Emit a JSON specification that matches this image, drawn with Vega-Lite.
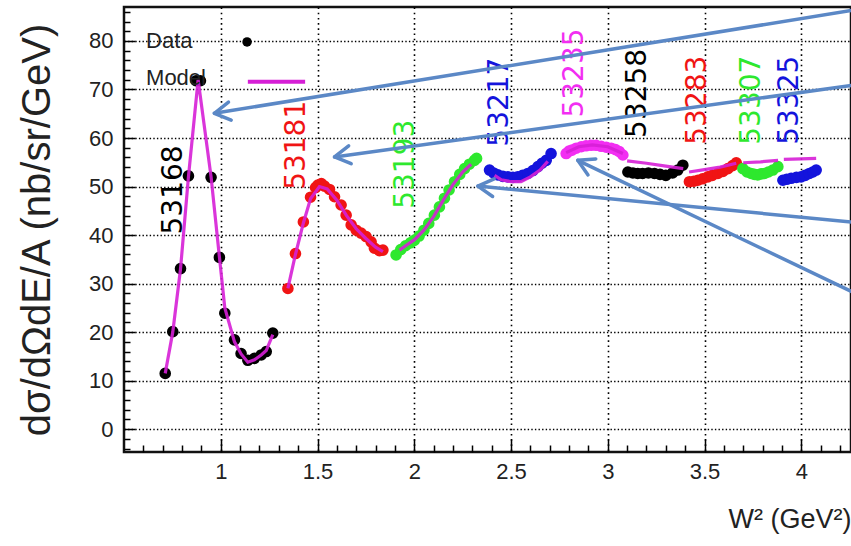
{
  "$schema": "https://vega.github.io/schema/vega-lite/v6.json",
  "width": 727,
  "height": 445,
  "autosize": {"type": "none"},
  "padding": {"left": 124, "top": 7, "right": 0, "bottom": 94},
  "background": "white",
  "config": {
    "font": "Liberation Sans",
    "view": {"stroke": "#111111", "strokeWidth": 2.5},
    "axis": {
      "labelColor": "#222222", "titleColor": "#222222", "titleFontWeight": "normal",
      "domain": false, "labelOverlap": false, "labelFlush": false
    }
  },
  "datasets": {
    "points": [
      {"series": "53168", "W2": 0.713, "xs": 11.5}, {"series": "53168", "W2": 0.752, "xs": 20.1}, {"series": "53168", "W2": 0.792, "xs": 33.1},
      {"series": "53168", "W2": 0.833, "xs": 52.2}, {"series": "53168", "W2": 0.872, "xs": 71.8}, {"series": "53168", "W2": 0.895, "xs": 71.8},
      {"series": "53168", "W2": 0.95, "xs": 51.9}, {"series": "53168", "W2": 0.993, "xs": 35.4}, {"series": "53168", "W2": 1.021, "xs": 23.9},
      {"series": "53168", "W2": 1.071, "xs": 18.4}, {"series": "53168", "W2": 1.105, "xs": 15.6}, {"series": "53168", "W2": 1.14, "xs": 14.2},
      {"series": "53168", "W2": 1.174, "xs": 14.6}, {"series": "53168", "W2": 1.209, "xs": 15.3}, {"series": "53168", "W2": 1.235, "xs": 16.0},
      {"series": "53168", "W2": 1.269, "xs": 19.8},
      {"series": "53181", "W2": 1.347, "xs": 29.0}, {"series": "53181", "W2": 1.386, "xs": 36.2}, {"series": "53181", "W2": 1.427, "xs": 42.7},
      {"series": "53181", "W2": 1.464, "xs": 47.8}, {"series": "53181", "W2": 1.49, "xs": 49.8}, {"series": "53181", "W2": 1.502, "xs": 50.3},
      {"series": "53181", "W2": 1.52, "xs": 50.6}, {"series": "53181", "W2": 1.536, "xs": 50.1}, {"series": "53181", "W2": 1.562, "xs": 49.4},
      {"series": "53181", "W2": 1.588, "xs": 47.9}, {"series": "53181", "W2": 1.622, "xs": 46.2}, {"series": "53181", "W2": 1.648, "xs": 44.1},
      {"series": "53181", "W2": 1.674, "xs": 42.1}, {"series": "53181", "W2": 1.7, "xs": 41.0}, {"series": "53181", "W2": 1.725, "xs": 40.4},
      {"series": "53181", "W2": 1.751, "xs": 39.7}, {"series": "53181", "W2": 1.777, "xs": 38.6}, {"series": "53181", "W2": 1.794, "xs": 37.3},
      {"series": "53181", "W2": 1.82, "xs": 36.8}, {"series": "53181", "W2": 1.838, "xs": 36.9},
      {"series": "53193", "W2": 1.906, "xs": 35.9}, {"series": "53193", "W2": 1.93, "xs": 37.0}, {"series": "53193", "W2": 1.955, "xs": 37.8},
      {"series": "53193", "W2": 1.98, "xs": 38.4}, {"series": "53193", "W2": 2.0, "xs": 38.9}, {"series": "53193", "W2": 2.025, "xs": 39.8},
      {"series": "53193", "W2": 2.05, "xs": 41.0}, {"series": "53193", "W2": 2.075, "xs": 42.4}, {"series": "53193", "W2": 2.104, "xs": 44.1},
      {"series": "53193", "W2": 2.13, "xs": 45.8}, {"series": "53193", "W2": 2.156, "xs": 47.6}, {"series": "53193", "W2": 2.18, "xs": 49.3},
      {"series": "53193", "W2": 2.208, "xs": 51.0}, {"series": "53193", "W2": 2.235, "xs": 52.5}, {"series": "53193", "W2": 2.26, "xs": 53.7},
      {"series": "53193", "W2": 2.285, "xs": 54.6}, {"series": "53193", "W2": 2.311, "xs": 55.4}, {"series": "53193", "W2": 2.322, "xs": 55.8},
      {"series": "53217", "W2": 2.389, "xs": 53.4}, {"series": "53217", "W2": 2.41, "xs": 52.8}, {"series": "53217", "W2": 2.432, "xs": 52.4},
      {"series": "53217", "W2": 2.458, "xs": 52.1}, {"series": "53217", "W2": 2.484, "xs": 52.0}, {"series": "53217", "W2": 2.51, "xs": 51.9},
      {"series": "53217", "W2": 2.535, "xs": 52.0}, {"series": "53217", "W2": 2.56, "xs": 52.3}, {"series": "53217", "W2": 2.587, "xs": 52.7},
      {"series": "53217", "W2": 2.613, "xs": 53.3}, {"series": "53217", "W2": 2.639, "xs": 54.1}, {"series": "53217", "W2": 2.66, "xs": 54.8},
      {"series": "53217", "W2": 2.682, "xs": 55.4}, {"series": "53217", "W2": 2.707, "xs": 56.8},
      {"series": "53235", "W2": 2.785, "xs": 56.8}, {"series": "53235", "W2": 2.8, "xs": 57.3}, {"series": "53235", "W2": 2.815, "xs": 57.5},
      {"series": "53235", "W2": 2.837, "xs": 57.9}, {"series": "53235", "W2": 2.863, "xs": 58.2}, {"series": "53235", "W2": 2.888, "xs": 58.4},
      {"series": "53235", "W2": 2.914, "xs": 58.5}, {"series": "53235", "W2": 2.94, "xs": 58.5}, {"series": "53235", "W2": 2.966, "xs": 58.3},
      {"series": "53235", "W2": 2.992, "xs": 58.1}, {"series": "53235", "W2": 3.018, "xs": 57.9}, {"series": "53235", "W2": 3.04, "xs": 57.6},
      {"series": "53235", "W2": 3.06, "xs": 57.2}, {"series": "53235", "W2": 3.078, "xs": 56.5},
      {"series": "53258", "W2": 3.104, "xs": 53.0}, {"series": "53258", "W2": 3.13, "xs": 52.8}, {"series": "53258", "W2": 3.155, "xs": 52.7},
      {"series": "53258", "W2": 3.18, "xs": 52.7}, {"series": "53258", "W2": 3.21, "xs": 52.8}, {"series": "53258", "W2": 3.241, "xs": 52.7},
      {"series": "53258", "W2": 3.27, "xs": 52.5}, {"series": "53258", "W2": 3.3, "xs": 52.3}, {"series": "53258", "W2": 3.335, "xs": 52.8},
      {"series": "53258", "W2": 3.362, "xs": 53.4}, {"series": "53258", "W2": 3.388, "xs": 54.4},
      {"series": "53283", "W2": 3.422, "xs": 51.0}, {"series": "53283", "W2": 3.445, "xs": 51.1}, {"series": "53283", "W2": 3.466, "xs": 51.3},
      {"series": "53283", "W2": 3.49, "xs": 51.6}, {"series": "53283", "W2": 3.517, "xs": 52.0}, {"series": "53283", "W2": 3.54, "xs": 52.3},
      {"series": "53283", "W2": 3.569, "xs": 52.7}, {"series": "53283", "W2": 3.595, "xs": 53.1}, {"series": "53283", "W2": 3.621, "xs": 53.7},
      {"series": "53283", "W2": 3.645, "xs": 54.3}, {"series": "53283", "W2": 3.664, "xs": 54.9},
      {"series": "53307", "W2": 3.698, "xs": 53.7}, {"series": "53307", "W2": 3.72, "xs": 53.0}, {"series": "53307", "W2": 3.741, "xs": 52.7},
      {"series": "53307", "W2": 3.758, "xs": 52.5}, {"series": "53307", "W2": 3.775, "xs": 52.4}, {"series": "53307", "W2": 3.792, "xs": 52.6},
      {"series": "53307", "W2": 3.81, "xs": 52.7}, {"series": "53307", "W2": 3.83, "xs": 53.0}, {"series": "53307", "W2": 3.853, "xs": 53.4},
      {"series": "53307", "W2": 3.879, "xs": 54.1},
      {"series": "53325", "W2": 3.905, "xs": 51.3}, {"series": "53325", "W2": 3.925, "xs": 51.5}, {"series": "53325", "W2": 3.948, "xs": 51.7},
      {"series": "53325", "W2": 3.975, "xs": 51.9}, {"series": "53325", "W2": 3.999, "xs": 52.0}, {"series": "53325", "W2": 4.02, "xs": 52.3},
      {"series": "53325", "W2": 4.042, "xs": 52.7}, {"series": "53325", "W2": 4.06, "xs": 53.0}, {"series": "53325", "W2": 4.077, "xs": 53.4}
    ],
    "model": [
      {"series": "53168", "W2": 0.713, "xs": 11.5}, {"series": "53168", "W2": 0.752, "xs": 20.0}, {"series": "53168", "W2": 0.792, "xs": 33.0},
      {"series": "53168", "W2": 0.833, "xs": 52.0}, {"series": "53168", "W2": 0.883, "xs": 72.0}, {"series": "53168", "W2": 0.95, "xs": 52.0},
      {"series": "53168", "W2": 0.993, "xs": 35.5}, {"series": "53168", "W2": 1.021, "xs": 25.0}, {"series": "53168", "W2": 1.071, "xs": 18.0},
      {"series": "53168", "W2": 1.105, "xs": 15.5}, {"series": "53168", "W2": 1.14, "xs": 13.8}, {"series": "53168", "W2": 1.174, "xs": 14.3},
      {"series": "53168", "W2": 1.209, "xs": 15.3}, {"series": "53168", "W2": 1.235, "xs": 16.2}, {"series": "53168", "W2": 1.269, "xs": 19.5},
      {"series": "53181", "W2": 1.347, "xs": 29.0}, {"series": "53181", "W2": 1.386, "xs": 36.0}, {"series": "53181", "W2": 1.427, "xs": 42.5},
      {"series": "53181", "W2": 1.464, "xs": 47.5}, {"series": "53181", "W2": 1.51, "xs": 50.0}, {"series": "53181", "W2": 1.55, "xs": 49.5},
      {"series": "53181", "W2": 1.6, "xs": 47.2}, {"series": "53181", "W2": 1.65, "xs": 44.0}, {"series": "53181", "W2": 1.7, "xs": 41.3},
      {"series": "53181", "W2": 1.75, "xs": 39.3}, {"series": "53181", "W2": 1.8, "xs": 37.5}, {"series": "53181", "W2": 1.838, "xs": 36.6},
      {"series": "53193", "W2": 1.924, "xs": 36.9}, {"series": "53193", "W2": 1.97, "xs": 38.2}, {"series": "53193", "W2": 2.0, "xs": 39.0},
      {"series": "53193", "W2": 2.05, "xs": 41.0}, {"series": "53193", "W2": 2.1, "xs": 43.8}, {"series": "53193", "W2": 2.15, "xs": 47.2},
      {"series": "53193", "W2": 2.2, "xs": 50.4}, {"series": "53193", "W2": 2.25, "xs": 53.0}, {"series": "53193", "W2": 2.294, "xs": 54.6},
      {"series": "53217", "W2": 2.415, "xs": 52.3}, {"series": "53217", "W2": 2.45, "xs": 51.4}, {"series": "53217", "W2": 2.5, "xs": 51.0},
      {"series": "53217", "W2": 2.552, "xs": 51.0}, {"series": "53217", "W2": 2.6, "xs": 52.0}, {"series": "53217", "W2": 2.65, "xs": 53.4},
      {"series": "53217", "W2": 2.69, "xs": 55.2},
      {"series": "53235", "W2": 2.785, "xs": 57.0}, {"series": "53235", "W2": 2.85, "xs": 58.2}, {"series": "53235", "W2": 2.92, "xs": 58.6},
      {"series": "53235", "W2": 3.0, "xs": 58.2}, {"series": "53235", "W2": 3.078, "xs": 56.8},
      {"series": "53258", "W2": 3.1, "xs": 55.3}, {"series": "53258", "W2": 3.2, "xs": 54.8}, {"series": "53258", "W2": 3.3, "xs": 54.2},
      {"series": "53258", "W2": 3.39, "xs": 53.7},
      {"series": "53283", "W2": 3.42, "xs": 53.0}, {"series": "53283", "W2": 3.5, "xs": 53.5}, {"series": "53283", "W2": 3.58, "xs": 54.0},
      {"series": "53283", "W2": 3.664, "xs": 54.8},
      {"series": "53307", "W2": 3.7, "xs": 54.9}, {"series": "53307", "W2": 3.79, "xs": 55.1}, {"series": "53307", "W2": 3.88, "xs": 55.4},
      {"series": "53325", "W2": 3.91, "xs": 55.6}, {"series": "53325", "W2": 4.0, "xs": 55.7}, {"series": "53325", "W2": 4.077, "xs": 55.8}
    ],
    "runs": [
      {"series": "53168", "W2": 0.759, "xs": 49.3},
      {"series": "53181", "W2": 1.395, "xs": 58.5},
      {"series": "53193", "W2": 1.958, "xs": 54.6},
      {"series": "53217", "W2": 2.442, "xs": 67.4},
      {"series": "53235", "W2": 2.831, "xs": 73.4},
      {"series": "53258", "W2": 3.157, "xs": 69.2},
      {"series": "53283", "W2": 3.467, "xs": 67.8},
      {"series": "53307", "W2": 3.746, "xs": 67.8},
      {"series": "53325", "W2": 3.94, "xs": 67.8}
    ],
    "legendText": [
      {"txt": "Data", "W2": 0.614, "xs": 80.0},
      {"txt": "Model", "W2": 0.614, "xs": 72.3}
    ],
    "legendDot": [{"W2": 1.136, "xs": 79.8}],
    "legendLine": [{"W2": 1.14, "W2end": 1.436, "xs": 71.6}],
    "arrows": [
      {"arrow": "a1", "k": 0, "W2": 4.31, "xs": 86.6}, {"arrow": "a1", "k": 1, "W2": 0.967, "xs": 65.1},
      {"arrow": "a1h", "k": 0, "W2": 1.054, "xs": 63.7}, {"arrow": "a1h", "k": 1, "W2": 0.967, "xs": 65.1}, {"arrow": "a1h", "k": 2, "W2": 1.04, "xs": 67.4},
      {"arrow": "a2", "k": 0, "W2": 4.31, "xs": 71.1}, {"arrow": "a2", "k": 1, "W2": 1.588, "xs": 56.1},
      {"arrow": "a2h", "k": 0, "W2": 1.674, "xs": 54.7}, {"arrow": "a2h", "k": 1, "W2": 1.588, "xs": 56.1}, {"arrow": "a2h", "k": 2, "W2": 1.661, "xs": 58.4},
      {"arrow": "a3", "k": 0, "W2": 4.31, "xs": 42.5}, {"arrow": "a3", "k": 1, "W2": 2.329, "xs": 50.1},
      {"arrow": "a3h", "k": 0, "W2": 2.405, "xs": 47.95}, {"arrow": "a3h", "k": 1, "W2": 2.329, "xs": 50.1}, {"arrow": "a3h", "k": 2, "W2": 2.413, "xs": 51.6},
      {"arrow": "a4", "k": 0, "W2": 4.31, "xs": 27.4}, {"arrow": "a4", "k": 1, "W2": 2.845, "xs": 55.4},
      {"arrow": "a4h", "k": 0, "W2": 2.898, "xs": 52.4}, {"arrow": "a4h", "k": 1, "W2": 2.845, "xs": 55.4}, {"arrow": "a4h", "k": 2, "W2": 2.938, "xs": 55.7}
    ]
  },
  "encoding": {
    "x": {
      "field": "W2", "type": "quantitative",
      "scale": {"domain": [0.5, 4.257], "nice": false, "zero": false},
      "axis": {
        "title": "W² (GeV²)",
        "titleFontSize": 27,
        "titleAnchor": "end",
        "titlePadding": 18,
        "values": [0.6, 0.7, 0.8, 0.9, 1.0, 1.1, 1.2, 1.3, 1.4, 1.5, 1.6, 1.7, 1.8, 1.9, 2.0, 2.1, 2.2, 2.3, 2.4, 2.5, 2.6, 2.7, 2.8, 2.9, 3.0, 3.1, 3.2, 3.3, 3.4, 3.5, 3.6, 3.7, 3.8, 3.9, 4.0, 4.1, 4.2],
        "labelExpr": "abs(datum.value * 2 - round(datum.value * 2)) < 0.001 ? format(datum.value, '~g') : ''",
        "labelFontSize": 22,
        "labelPadding": 22,
        "tickColor": "#000000",
        "tickWidth": 1.5,
        "tickSize": {"condition": {"test": "abs(datum.value * 2 - round(datum.value * 2)) < 0.001", "value": -13}, "value": -7},
        "grid": true,
        "gridColor": "#000000",
        "gridWidth": 1.6,
        "gridDash": [1.6, 3.6],
        "gridOpacity": {"condition": {"test": "abs(datum.value * 2 - round(datum.value * 2)) < 0.001", "value": 1}, "value": 0}
      }
    },
    "y": {
      "field": "xs", "type": "quantitative",
      "scale": {"domain": [-4.7, 87], "nice": false, "zero": false},
      "axis": {
        "title": "dσ/dΩdE/A (nb/sr/GeV)",
        "titleFontSize": 40,
        "titlePadding": 31,
        "values": [-4, -2, 0, 2, 4, 6, 8, 10, 12, 14, 16, 18, 20, 22, 24, 26, 28, 30, 32, 34, 36, 38, 40, 42, 44, 46, 48, 50, 52, 54, 56, 58, 60, 62, 64, 66, 68, 70, 72, 74, 76, 78, 80, 82, 84, 86],
        "labelExpr": "datum.value % 10 === 0 ? format(datum.value, 'd') : ''",
        "labelFontSize": 22,
        "labelPadding": 22,
        "tickColor": "#000000",
        "tickWidth": 1.5,
        "tickSize": {"condition": {"test": "datum.value % 10 === 0", "value": -11}, "value": -6},
        "grid": true,
        "gridColor": "#000000",
        "gridWidth": 1.5,
        "gridDash": [1.4, 2.2],
        "gridOpacity": {"condition": {"test": "datum.value % 10 === 0", "value": 1}, "value": 0}
      }
    }
  },
  "layer": [
    {
      "data": {"name": "points"},
      "mark": {"type": "circle", "size": 135, "opacity": 1},
      "encoding": {
        "color": {
          "field": "series", "type": "nominal", "legend": null,
          "scale": {
            "domain": ["53168", "53181", "53193", "53217", "53235", "53258", "53283", "53307", "53325"],
            "range": ["#000000", "#f01414", "#2ee82e", "#1414dc", "#f22ef2", "#000000", "#f01414", "#2ee82e", "#1414dc"]
          }
        }
      }
    },
    {
      "data": {"name": "model"},
      "mark": {"type": "line", "color": "#d61fd6", "strokeWidth": 3.2, "opacity": 0.9},
      "encoding": {"detail": {"field": "series"}}
    },
    {
      "data": {"name": "runs"},
      "mark": {"type": "text", "angle": 270, "align": "center", "baseline": "middle", "font": "DejaVu Sans", "fontSize": 28},
      "encoding": {
        "text": {"field": "series"},
        "color": {"field": "series", "type": "nominal", "legend": null}
      }
    },
    {
      "data": {"name": "legendText"},
      "mark": {"type": "text", "align": "left", "baseline": "middle", "fontSize": 22, "color": "#222222"},
      "encoding": {"text": {"field": "txt"}}
    },
    {
      "data": {"name": "legendDot"},
      "mark": {"type": "circle", "size": 90, "color": "#000000", "opacity": 1},
      "encoding": {}
    },
    {
      "data": {"name": "legendLine"},
      "mark": {"type": "rule", "color": "#d61fd6", "strokeWidth": 4},
      "encoding": {"x2": {"field": "W2end"}}
    },
    {
      "data": {"name": "arrows"},
      "mark": {"type": "line", "color": "#5b88c6", "strokeWidth": 3.5, "strokeCap": "round", "strokeJoin": "round", "clip": false},
      "encoding": {
        "detail": {"field": "arrow"},
        "order": {"field": "k"}
      }
    }
  ]
}
